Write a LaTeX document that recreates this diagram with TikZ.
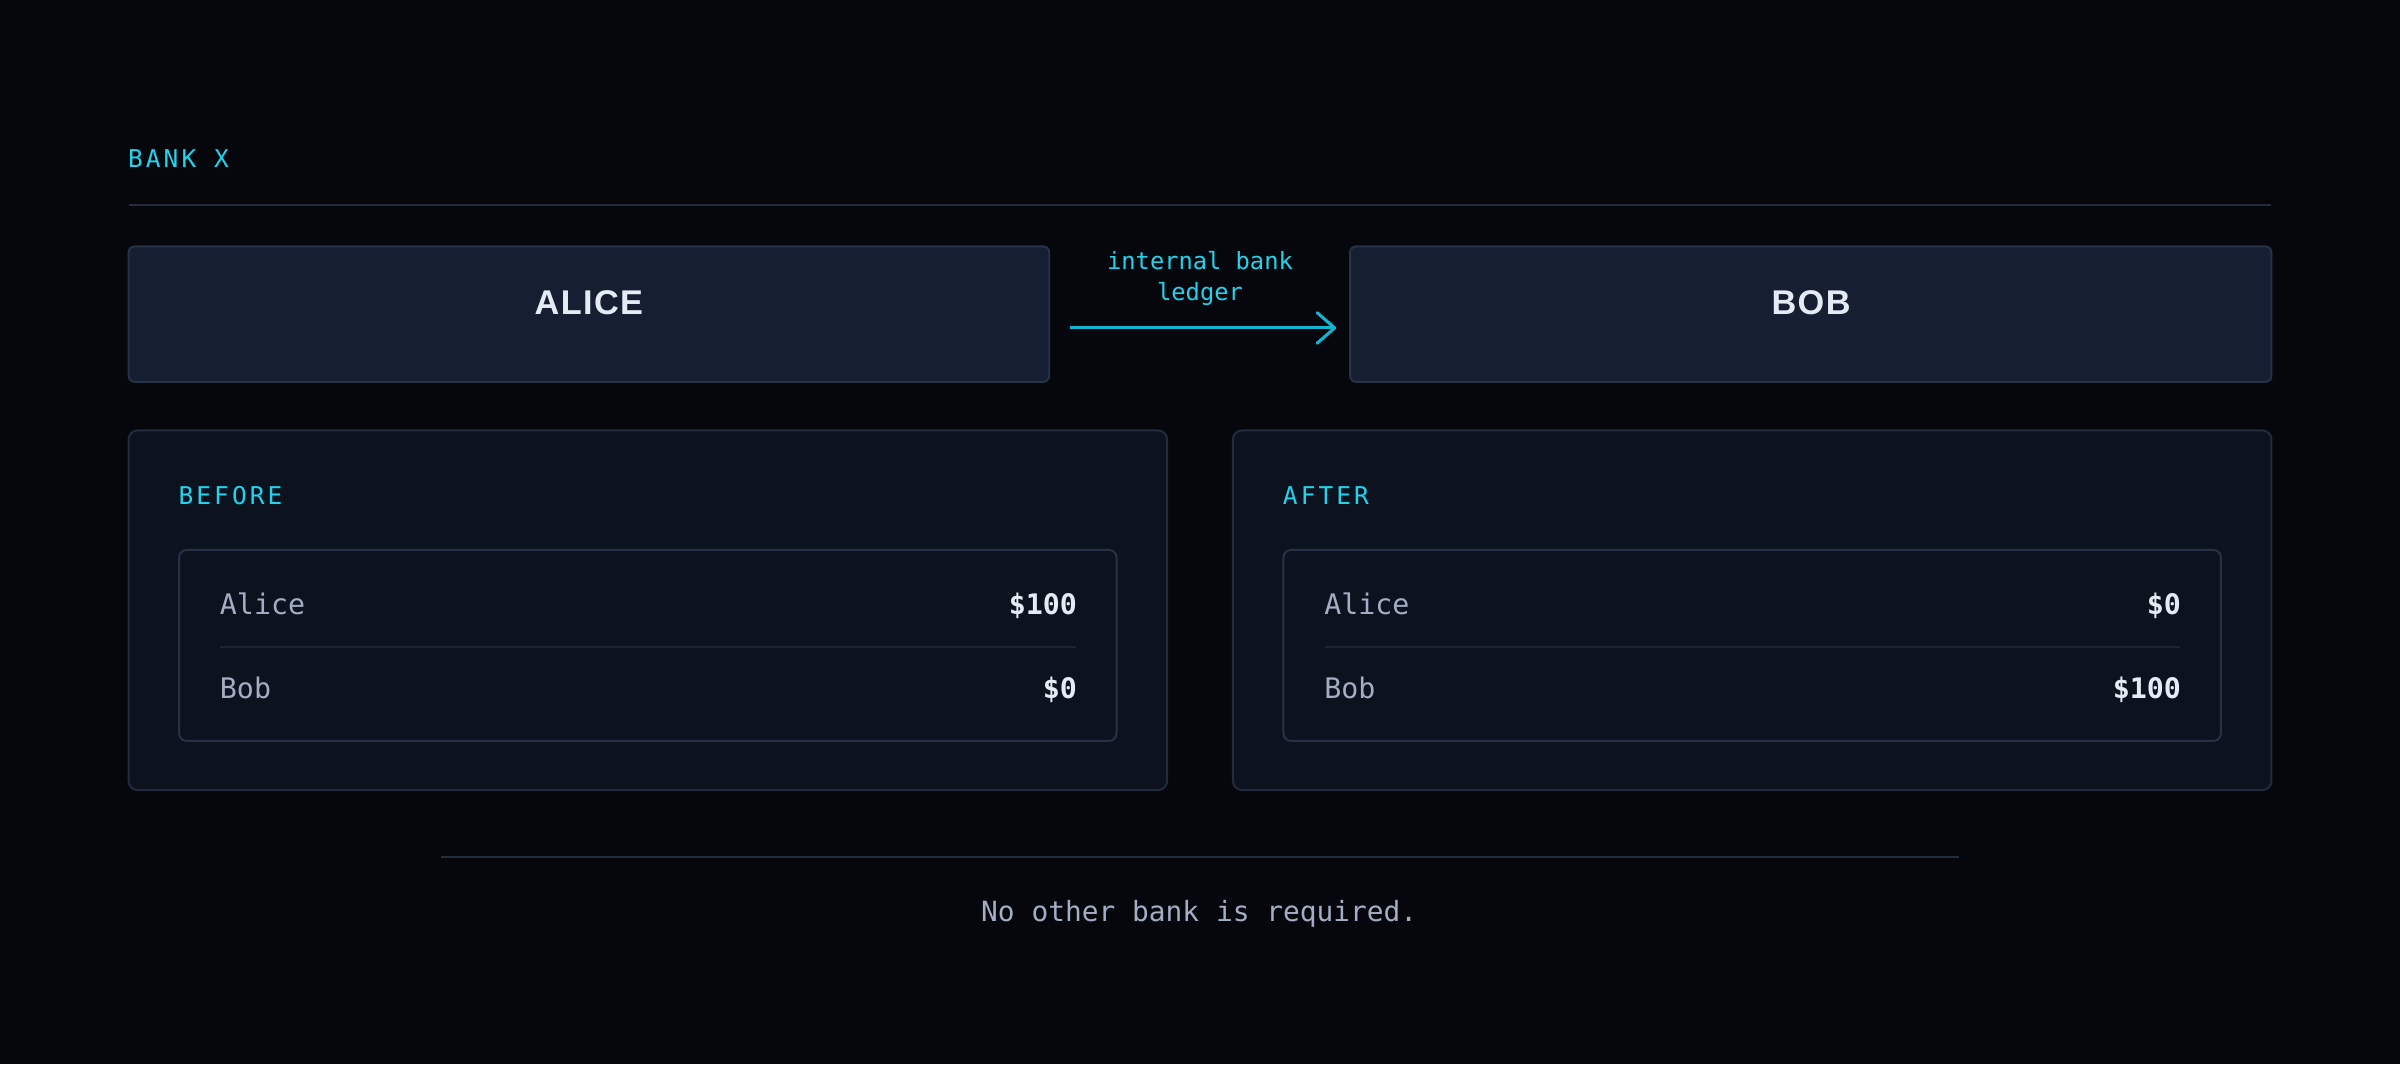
\documentclass[tikz,border=0pt]{standalone}
\usepackage{fontspec}
\usetikzlibrary{arrows.meta,calc}
\newfontfamily\monof{DejaVu Sans Mono}
\newfontfamily\monosp[LetterSpace=12.5]{DejaVu Sans Mono}
\newfontfamily\titlef[LetterSpace=4]{Liberation Sans}
\definecolor{bgc}{HTML}{05070C}
\definecolor{cyanx}{HTML}{22D3EE}
\definecolor{arrowc}{HTML}{12B4D2}
\definecolor{titlefill}{HTML}{161F31}
\definecolor{titleborder}{HTML}{283247}
\definecolor{panelfill}{HTML}{0C131F}
\definecolor{panelborder}{HTML}{232C3D}
\definecolor{tableborder}{HTML}{283247}
\definecolor{rowrule}{HTML}{1C2433}
\definecolor{rulec}{HTML}{242A3B}
\definecolor{labelc}{HTML}{A3ADC3}
\definecolor{valc}{HTML}{E5EBF5}
\begin{document}
\begin{tikzpicture}[x=1pt,y=-1pt,
  box/.style={inner sep=0pt,outer sep=0pt,anchor=north west},
  titlebox/.style={box,fill=titlefill,draw=titleborder,line width=1.3pt,rounded corners=4pt},
  panel/.style={box,fill=panelfill,draw=panelborder,line width=1.3pt,rounded corners=6pt},
  tablebox/.style={box,fill=panelfill,draw=tableborder,line width=1.3pt,rounded corners=5pt},
  sect/.style={inner sep=0pt,anchor=base west,text=cyanx,font=\monosp\fontsize{16}{19}\selectfont},
  titletext/.style={inner sep=0pt,anchor=base,text=valc,font=\titlef\bfseries\fontsize{22.4}{26}\selectfont},
  rowlabel/.style={inner sep=0pt,anchor=base west,text=labelc,font=\monof\fontsize{18.5}{22}\selectfont},
  rowval/.style={inner sep=0pt,anchor=base east,text=valc,font=\monof\bfseries\fontsize{18.5}{22}\selectfont},
  rulel/.style={draw=rulec,line width=1.3pt},
  rowsep/.style={draw=rowrule,line width=1.3pt},
  flow/.style={draw=arrowc,line width=2pt,-{Straight Barb[length=11.5pt,width=20pt,line width=2pt,round]}}
]
\fill[bgc] (0,0) rectangle (1568,695.2);
\useasboundingbox (0,0) rectangle (1568,695.2);

% header
\node[sect] (bank) at (83.5,109.6) {BANK X};
\coordinate (r1a) at (84,133.8);
\coordinate (r1b) at (1484,133.8);
\draw[rulel] (r1a) -- (r1b);

% title boxes
\node[titlebox,minimum width=601.5pt,minimum height=88.5pt] (alice) at (84,161) {};
\node[titlebox,minimum width=602pt,minimum height=88.5pt] (bob) at (882,161) {};
\node[titletext] (alicet) at (384.7,205.2) {ALICE};
\node[titletext] (bobt) at (1183.2,205.2) {BOB};

% connector
\draw[flow] ($(alice.east)+(13.6,9)$) -- ($(bob.west)+(-9,9)$);
\node[inner sep=0pt,anchor=base,text=cyanx,font=\monof\fontsize{15.5}{20.6}\selectfont] (ledger) at (784,176)
  {\setlength{\tabcolsep}{0pt}\begin{tabular}[t]{c}internal bank\\ledger\end{tabular}};

% panels
\node[panel,minimum width=678.5pt,minimum height=235pt] (before) at (84,281.2) {};
\node[panel,minimum width=678.5pt,minimum height=235pt] (after) at (805.5,281.2) {};
\node[sect] (beforet) at (116.5,329.3) {BEFORE};
\node[sect] (aftert) at (838,329.3) {AFTER};

% tables
\node[tablebox,minimum width=612.5pt,minimum height=124.8pt] (tb) at (117,359.3) {};
\node[tablebox,minimum width=612.5pt,minimum height=124.8pt] (ta) at (838.5,359.3) {};

% before rows
\node[rowlabel] (bal) at (143.5,401.2) {Alice};
\node[rowval] (bav) at (703.8,401.2) {\$100};
\coordinate (bs1) at (144,422.5);
\coordinate (bs2) at (703,422.5);
\draw[rowsep] (bs1) -- (bs2);
\node[rowlabel] (bbl) at (143.5,456.2) {Bob};
\node[rowval] (bbv) at (703.8,456.2) {\$0};

% after rows
\node[rowlabel] (aal) at (865,401.2) {Alice};
\node[rowval] (aav) at (1425.1,401.2) {\$0};
\coordinate (as1) at (865.5,422.5);
\coordinate (as2) at (1424.3,422.5);
\draw[rowsep] (as1) -- (as2);
\node[rowlabel] (abl) at (865,456.2) {Bob};
\node[rowval] (abv) at (1425.1,456.2) {\$100};

% footer
\coordinate (f1) at (288,559.7);
\coordinate (f2) at (1280,559.7);
\draw[draw=panelborder,line width=1.3pt] (f1) -- (f2);
\node[inner sep=0pt,anchor=base,text=labelc,font=\monof\fontsize{18.2}{22}\selectfont] (foot) at (783.5,602.2) {No other bank is required.};
\end{tikzpicture}
\end{document}
